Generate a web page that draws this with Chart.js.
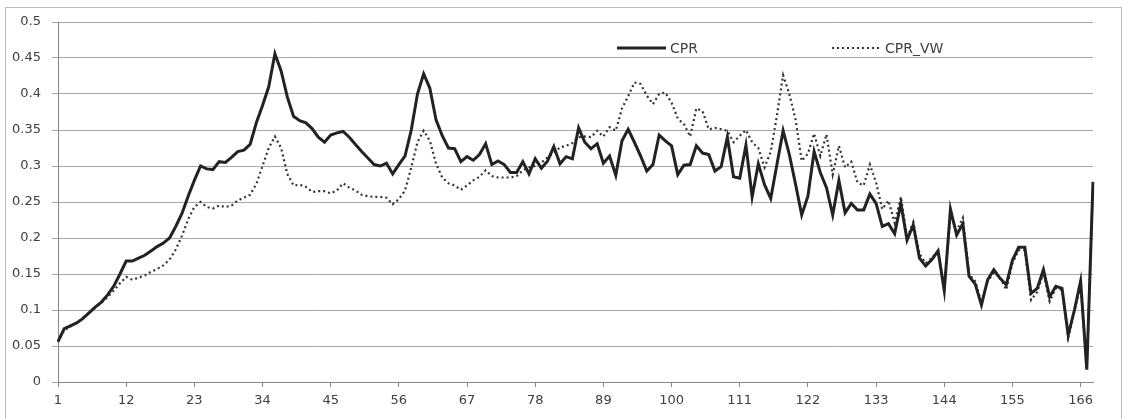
<!DOCTYPE html>
<html>
<head>
<meta charset="utf-8">
<title>CPR vs CPR_VW</title>
<script src="https://cdn.jsdelivr.net/npm/chart.js@4.4.1/dist/chart.umd.min.js"></script>
<style>
  html, body { margin: 0; padding: 0; background: #fff; }
  canvas { display: block; }
</style>
</head>
<body>
<canvas id="lineChart" width="1123" height="419"></canvas>
<script>
// categories 1..168, a label shown every 11th
const categories = Array.from({ length: 168 }, (_, i) => String(i + 1));
const tickEvery = 11;

const cpr = [
  0.056, 0.074, 0.078, 0.082, 0.088, 0.096, 0.104, 0.111, 0.121, 0.133,
  0.150, 0.168, 0.168, 0.172, 0.176, 0.182, 0.188, 0.193, 0.200, 0.216,
  0.234, 0.258, 0.280, 0.300, 0.296, 0.295, 0.306, 0.305, 0.312, 0.320,
  0.322, 0.330, 0.360, 0.384, 0.410, 0.456, 0.432, 0.396, 0.369, 0.363,
  0.360, 0.352, 0.340, 0.333, 0.343, 0.346, 0.348, 0.340, 0.330, 0.320,
  0.311, 0.302, 0.300, 0.304, 0.289, 0.302, 0.314, 0.350, 0.400, 0.428,
  0.408, 0.364, 0.342, 0.325, 0.324, 0.306, 0.313, 0.308, 0.316, 0.331,
  0.302, 0.307, 0.302, 0.291, 0.291, 0.306, 0.289, 0.310, 0.297, 0.307,
  0.327, 0.303, 0.313, 0.310, 0.353, 0.333, 0.324, 0.331, 0.304, 0.314,
  0.287, 0.335, 0.351, 0.333, 0.314, 0.293, 0.302, 0.343, 0.335, 0.328,
  0.288, 0.301, 0.302, 0.328, 0.318, 0.316, 0.293, 0.299, 0.340, 0.285,
  0.283, 0.329, 0.257, 0.303, 0.274, 0.255, 0.302, 0.349, 0.316, 0.275,
  0.232, 0.258, 0.320, 0.291, 0.270, 0.232, 0.280, 0.235, 0.248, 0.239,
  0.239, 0.261, 0.248, 0.216, 0.220, 0.206, 0.248, 0.197, 0.218, 0.172,
  0.161, 0.170, 0.182, 0.127, 0.240, 0.204, 0.220, 0.147, 0.136, 0.107,
  0.142, 0.156, 0.144, 0.135, 0.169, 0.187, 0.187, 0.123, 0.130, 0.156,
  0.118, 0.133, 0.130, 0.065, 0.100, 0.140, 0.017, 0.278
];

const cprVw = [
  0.056, 0.072, 0.077, 0.082, 0.089, 0.096, 0.103, 0.110, 0.118, 0.127,
  0.137, 0.146, 0.142, 0.145, 0.148, 0.153, 0.157, 0.162, 0.170, 0.184,
  0.203, 0.226, 0.243, 0.250, 0.243, 0.241, 0.245, 0.243, 0.245, 0.252,
  0.256, 0.260, 0.275, 0.300, 0.325, 0.341, 0.325, 0.289, 0.273, 0.274,
  0.271, 0.264, 0.265, 0.265, 0.262, 0.266, 0.276, 0.270, 0.266, 0.260,
  0.258, 0.257, 0.257, 0.256, 0.247, 0.254, 0.266, 0.298, 0.333, 0.349,
  0.335, 0.303, 0.284, 0.276, 0.273, 0.267, 0.273, 0.280, 0.285, 0.294,
  0.286, 0.284, 0.284, 0.284, 0.286, 0.294, 0.298, 0.300, 0.305, 0.312,
  0.318, 0.326, 0.328, 0.332, 0.340, 0.341, 0.340, 0.349, 0.341, 0.354,
  0.349, 0.380, 0.397, 0.416, 0.414, 0.398, 0.386, 0.400, 0.402, 0.388,
  0.366, 0.358, 0.341, 0.380, 0.376, 0.351, 0.353, 0.351, 0.349, 0.333,
  0.342, 0.350, 0.333, 0.325, 0.298, 0.320, 0.370, 0.426, 0.400, 0.365,
  0.307, 0.317, 0.345, 0.314, 0.344, 0.288, 0.328, 0.298, 0.306, 0.277,
  0.273, 0.302, 0.277, 0.240, 0.252, 0.221, 0.257, 0.200, 0.222, 0.178,
  0.165, 0.172, 0.182, 0.130, 0.232, 0.210, 0.228, 0.150, 0.140, 0.110,
  0.140, 0.152, 0.145, 0.128, 0.165, 0.183, 0.183, 0.114, 0.125, 0.152,
  0.112, 0.130, 0.128, 0.062, 0.098, 0.135, 0.020, 0.275
];

const yMin = 0;
const yMax = 0.5;
const yStep = 0.05;

const labelFont = { family: 'DejaVu Sans', size: 13 };
const labelColor = '#404040';

// legend drawn inside the plot, like the original
const legendSpots = [
  { x: 617, y: 48, w: 49 },
  { x: 832, y: 48, w: 49 }
];

const framePlugin = {
  id: 'frame',
  beforeDraw(chart) {
    const ctx = chart.ctx;
    ctx.save();
    ctx.fillStyle = '#fff';
    ctx.fillRect(0, 0, chart.width, chart.height);
    ctx.restore();
  },
  afterDraw(chart) {
    const ctx = chart.ctx;
    ctx.save();
    ctx.strokeStyle = '#bdbdbd';
    ctx.lineWidth = 1;
    ctx.strokeRect(5.5, 7.5, chart.width - 7, chart.height);

    chart.data.datasets.forEach((ds, i) => {
      const spot = legendSpots[i];
      ctx.beginPath();
      ctx.setLineDash(ds.borderDash || []);
      ctx.lineWidth = ds.borderWidth;
      ctx.strokeStyle = ds.borderColor;
      ctx.moveTo(spot.x, spot.y);
      ctx.lineTo(spot.x + spot.w, spot.y);
      ctx.stroke();
      ctx.setLineDash([]);
      ctx.fillStyle = labelColor;
      ctx.font = '14px "DejaVu Sans"';
      ctx.textBaseline = 'middle';
      ctx.fillText(ds.label, spot.x + spot.w + 4, spot.y + 1);
    });
    ctx.restore();
  }
};

const ctxLine = document.getElementById('lineChart').getContext('2d');
new Chart(ctxLine, {
  type: 'line',
  data: {
    labels: categories,
    datasets: [
      {
        label: 'CPR',
        data: cpr,
        borderColor: '#222222',
        borderWidth: 3,
        pointRadius: 0,
        tension: 0,
        fill: false
      },
      {
        label: 'CPR_VW',
        data: cprVw,
        borderColor: '#333333',
        borderWidth: 2.2,
        borderDash: [2, 3],
        pointRadius: 0,
        tension: 0,
        fill: false
      }
    ]
  },
  options: {
    responsive: false,
    animation: false,
    devicePixelRatio: 1,
    layout: { padding: { left: 4, top: 22, right: 30, bottom: 5 } },
    plugins: {
      legend: { display: false },
      tooltip: { enabled: false }
    },
    scales: {
      x: {
        type: 'category',
        offset: false,
        grid: {
          drawOnChartArea: false,
          tickLength: 5,
          color: c => (c.index % tickEvery === 0 ? '#868686' : 'rgba(0,0,0,0)')
        },
        border: { color: '#868686' },
        ticks: {
          autoSkip: false,
          maxRotation: 0,
          minRotation: 0,
          padding: 6,
          font: labelFont,
          color: labelColor,
          callback: function(value, index) {
            return index % tickEvery === 0 ? this.getLabelForValue(value) : '';
          }
        },
        afterFit: scale => { scale.height = 32; }
      },
      y: {
        min: yMin,
        max: yMax,
        grid: { color: '#a8a8a8', tickLength: 6 },
        border: { color: '#868686' },
        ticks: {
          stepSize: yStep,
          padding: 11,
          font: labelFont,
          color: labelColor,
          callback: value => String(+value.toFixed(2))
        },
        afterFit: scale => { scale.width = 54; }
      }
    }
  },
  plugins: [framePlugin]
});
</script>
</body>
</html>
